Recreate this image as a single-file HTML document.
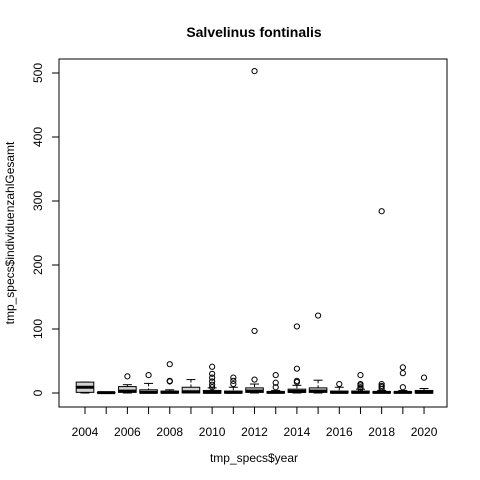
<!DOCTYPE html>
<html><head><meta charset="utf-8"><style>body{margin:0;background:#fff}svg{display:block;font-family:"Liberation Sans",Arial,sans-serif}</style></head>
<body>
<svg id="chart" width="480" height="480">
<rect width="480" height="480" fill="#fff"/>
<text x="254" y="37" text-anchor="middle" font-weight="bold" font-size="14">Salvelinus fontinalis</text>
<text x="254" y="462" text-anchor="middle" font-size="12">tmp_specs$year</text>
<text transform="translate(14,233) rotate(-90)" text-anchor="middle" font-size="12">tmp_specs$individuenzahlGesamt</text>
<rect x="59" y="59" width="388" height="348" fill="none" stroke="#000"/>
<g id="g"></g>
</svg>
<script>
const years=[2004,2005,2006,2007,2008,2009,2010,2011,2012,2013,2014,2015,2016,2017,2018,2019,2020];
const q1=[1,0,1,0,0,0,0,0,1,0,1,1,0,0,0,0,0];
const med=[9,0.5,3,1,1,2,1,1,3,1,2.5,3,1,1,1,1,1];
const q3=[17,1,10,5,3,9,4,3,8,2,6,8,3,3,2,2,4];
const whiLo=[0,0,0,0,0,0,0,0,0,0,0,0,0,0,0,0,0];
const whiHi=[17,1,13,15,5,21,8,9,14,4,12,20,9,6,4,4,7];
const outliers=[[],[],[26],[28],[19,18,45],[],[41,30,24,18,13,9],[24,19,14],[21,97,503],[28,16,9],[17,19,38,104],[121],[14],[28,14,12,9,7],[14,11,9,6,284],[9,31,40],[24]];
const yTicks=[0,100,200,300,400,500];
const xLabels=[2004,2006,2008,2010,2012,2014,2016,2018,2020];
const NS='http://www.w3.org/2000/svg';
const g=document.getElementById('g');
const X=i=>85+i*21.19;
const Y=v=>393-v*0.64;
function mk(t,a){const e=document.createElementNS(NS,t);for(const k in a)e.setAttribute(k,a[k]);g.appendChild(e);return e;}
yTicks.forEach(v=>{
 const l=mk('line',{x1:52,x2:59,y1:Y(v),y2:Y(v),stroke:'#000'});
 
 
 const t=mk('text',{transform:`translate(42,${Y(v)}) rotate(-90)`,'text-anchor':'middle','font-size':12});
 t.textContent=v;
 
 
});
years.forEach((yr,i)=>{
 const x=X(i);
 const tk=mk('line',{x1:x,x2:x,y1:407,y2:414,stroke:'#000'});
 
 
 if(xLabels.includes(yr)){const t=mk('text',{x:x,y:436,'text-anchor':'middle','font-size':12});t.textContent=yr;
 
 }
 const w=mk('line',{x1:x,x2:x,y1:Y(whiHi[i]),y2:Y(whiLo[i]),stroke:'#000','stroke-dasharray':'3,2'});
 
 
 [whiHi[i],whiLo[i]].forEach(v=>{const c=mk('line',{x1:x-4.5,x2:x+4.5,y1:Y(v),y2:Y(v),stroke:'#000'});
 
 });
 const b=mk('rect',{x:x-8.8,y:Y(q3[i]),width:17.6,height:Math.max(Y(q1[i])-Y(q3[i]),0.5),fill:'#d3d3d3',stroke:'#000'});
 
 
 const m=mk('line',{x1:x-8.8,x2:x+8.8,y1:Y(med[i]),y2:Y(med[i]),stroke:'#000','stroke-width':3});
 
 
 outliers[i].forEach(v=>{const c=mk('circle',{cx:x,cy:Y(v),r:2.6,fill:'none',stroke:'#000'});
 
 });
});
</script>
</body></html>
